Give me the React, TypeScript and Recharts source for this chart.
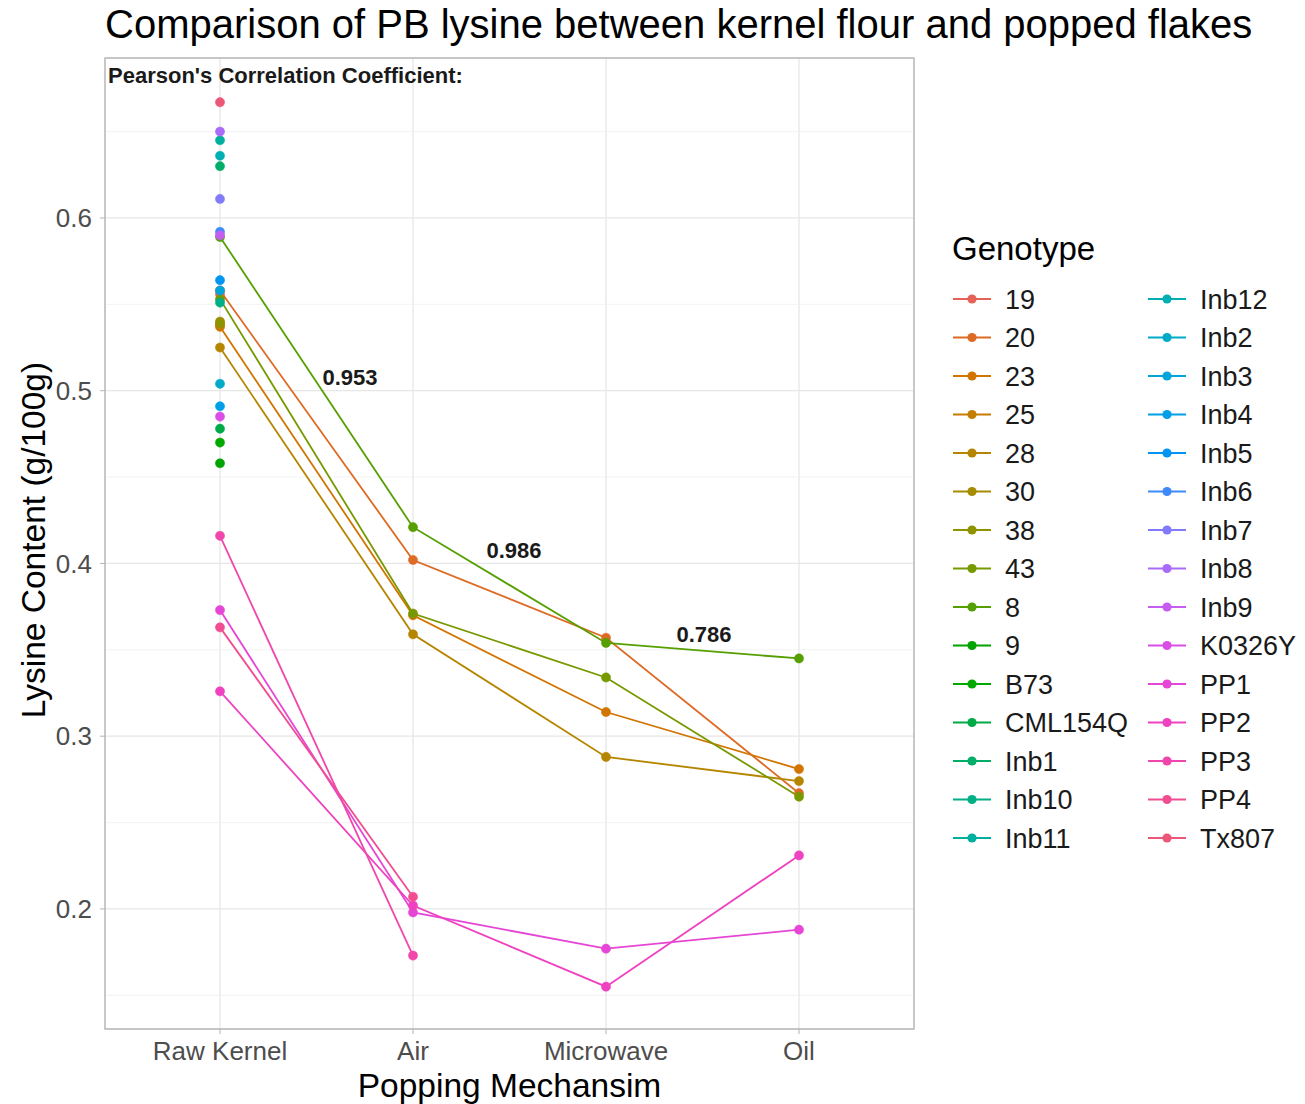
import React from "react";
import { LineChart, Line, XAxis, YAxis, CartesianGrid, ReferenceLine } from "recharts";

const mechanisms = ["Raw Kernel", "Air", "Microwave", "Oil"];

const genotypes = [
  "19", "20", "23", "25", "28", "30", "38", "43", "8", "9",
  "B73", "CML154Q", "Inb1", "Inb10", "Inb11", "Inb12", "Inb2", "Inb3", "Inb4", "Inb5",
  "Inb6", "Inb7", "Inb8", "Inb9", "K0326Y", "PP1", "PP2", "PP3", "PP4", "Tx807"
];

// lysine values per popping mechanism, in genotype order (null = not measured)
const rawKernel = [
  0.556, 0.558, 0.537, 0.538, 0.525, 0.540, 0.539, 0.553, 0.589, 0.458,
  0.470, 0.478, 0.630, 0.551, 0.645, 0.636, 0.504, 0.558, 0.491, 0.564,
  0.592, 0.611, 0.650, 0.590, 0.485, 0.373, 0.326, 0.416, 0.363, 0.667
];
const air = [
  null, 0.402, 0.370, null, 0.359, null, null, 0.371, 0.421, null,
  null, null, null, null, null, null, null, null, null, null,
  null, null, null, null, null, 0.198, 0.202, 0.173, 0.207, null
];
const microwave = [
  null, 0.357, 0.314, null, 0.288, null, null, 0.334, 0.354, null,
  null, null, null, null, null, null, null, null, null, null,
  null, null, null, null, null, 0.177, 0.155, null, null, null
];
const oil = [
  null, 0.267, 0.281, null, 0.274, null, null, 0.265, 0.345, null,
  null, null, null, null, null, null, null, null, null, null,
  null, null, null, null, null, 0.188, 0.231, null, null, null
];

const yTicks = [0.2, 0.3, 0.4, 0.5, 0.6];
const yMinorTicks = [0.15, 0.25, 0.35, 0.45, 0.55, 0.65];

const correlations = [
  { text: "0.953", x: 350, y: 385 },
  { text: "0.986", x: 514, y: 558 },
  { text: "0.786", x: 704, y: 642 }
];

// ggplot-like hue palette (polar Luv -> sRGB)
function hcl(h: number, c: number, l: number) {
  const hr = (h * Math.PI) / 180;
  const U = c * Math.cos(hr);
  const V = c * Math.sin(hr);
  const Xn = 95.047, Yn = 100, Zn = 108.883;
  const den = Xn + 15 * Yn + 3 * Zn;
  const un = (4 * Xn) / den, vn = (9 * Yn) / den;
  const Y = Yn * Math.pow((l + 16) / 116, 3);
  const u = U / (13 * l) + un;
  const v = V / (13 * l) + vn;
  const X = (9 * Y * u) / (4 * v);
  const Z = (Y * (12 - 3 * u - 20 * v)) / (4 * v);
  const x = X / 100, y = Y / 100, z = Z / 100;
  const lin = [
    3.240479 * x - 1.53715 * y - 0.498535 * z,
    -0.969256 * x + 1.875992 * y + 0.041556 * z,
    0.055648 * x - 0.204043 * y + 1.057311 * z
  ];
  const hex = lin
    .map((t) => {
      const g = t <= 0.0031308 ? 12.92 * t : 1.055 * Math.pow(t, 1 / 2.4) - 0.055;
      const n = Math.round(Math.min(1, Math.max(0, g)) * 255);
      return n.toString(16).padStart(2, "0");
    })
    .join("");
  return "#" + hex;
}

const colors = genotypes.map((_, i) => hcl(15 + (360 / genotypes.length) * i, 105, 58));

const data = mechanisms.map((m, i) => {
  const series = [rawKernel, air, microwave, oil][i];
  const row: Record<string, string | number | null> = { mechanism: m };
  genotypes.forEach((g, j) => {
    row[g] = series[j];
  });
  return row;
});

const font = "'Liberation Sans', Arial, Helvetica, sans-serif";

const App = () => {
  return (
    <div style={{ position: "absolute", left: 0, top: 0, width: 1305, height: 1104, background: "#fff", fontFamily: font }}>
      <LineChart
        width={1305}
        height={1104}
        data={data}
        margin={{ top: 58, right: 391, bottom: 0, left: 0 }}
      >
        {yMinorTicks.map((v) => (
          <ReferenceLine key={v} y={v} stroke="#f0f0f0" strokeWidth={0.8} />
        ))}
        <CartesianGrid stroke="#e6e6e6" strokeWidth={1.3} />
        <XAxis
          dataKey="mechanism"
          padding={{ left: 115, right: 115 }}
          height={75}
          tickSize={5}
          tickMargin={8}
          axisLine={false}
          tickLine={{ stroke: "#b3b3b3" }}
          tick={{ fill: "#4d4d4d", fontSize: 26, fontFamily: font }}
        />
        <YAxis
          type="number"
          domain={[0.1305, 0.6926]}
          allowDataOverflow
          ticks={yTicks}
          tickFormatter={(v: number) => v.toFixed(1)}
          width={105}
          tickSize={5}
          tickMargin={8}
          axisLine={false}
          tickLine={{ stroke: "#b3b3b3" }}
          tick={{ fill: "#4d4d4d", fontSize: 26, fontFamily: font }}
        />
        {genotypes.map((g, i) => (
          <Line
            key={g}
            type="linear"
            dataKey={g}
            stroke={colors[i]}
            strokeWidth={1.8}
            dot={{ r: 4.6, fill: colors[i], stroke: colors[i], strokeWidth: 0.5 }}
            activeDot={false}
            connectNulls={false}
            isAnimationActive={false}
          />
        ))}
      </LineChart>

      <svg
        width={1305}
        height={1104}
        style={{ position: "absolute", left: 0, top: 0, pointerEvents: "none", fontFamily: font }}
      >
        <rect x={105} y={58} width={809} height={971} fill="none" stroke="#b3b3b3" strokeWidth={1.3} />
        <text x={105} y={38} fontSize={40} fill="#000">
          Comparison of PB lysine between kernel flour and popped flakes
        </text>
        <text x={108} y={83} fontSize={22} fontWeight="bold" fill="#1a1a1a">
          Pearson's Correlation Coefficient:
        </text>
        {correlations.map((c) => (
          <text key={c.text} x={c.x} y={c.y} fontSize={22} fontWeight="bold" fill="#1a1a1a" textAnchor="middle">
            {c.text}
          </text>
        ))}
        <text x={509.5} y={1097} fontSize={33.5} fill="#000" textAnchor="middle">
          Popping Mechansim
        </text>
        <text x={45} y={540} fontSize={33.5} fill="#000" textAnchor="middle" transform="rotate(-90 45 540)">
          Lysine Content (g/100g)
        </text>

        <text x={952} y={260} fontSize={33} fill="#000">
          Genotype
        </text>
        {genotypes.map((g, i) => {
          const col = Math.floor(i / 15);
          const row = i % 15;
          const kx = col === 0 ? 953 : 1148;
          const ky = 299 + row * 38.5;
          return (
            <g key={g}>
              <line x1={kx} x2={kx + 38} y1={ky} y2={ky} stroke={colors[i]} strokeWidth={1.8} />
              <circle cx={kx + 19} cy={ky} r={4.6} fill={colors[i]} />
              <text x={kx + 52} y={ky + 9.5} fontSize={27} fill="#1a1a1a">
                {g}
              </text>
            </g>
          );
        })}
      </svg>
    </div>
  );
};

export default App;
